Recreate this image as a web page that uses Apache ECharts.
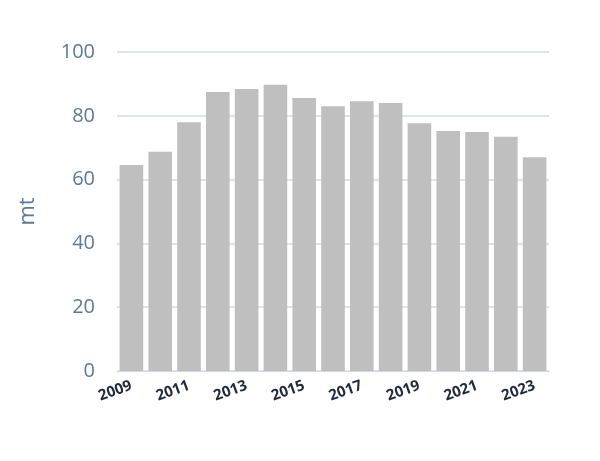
<!DOCTYPE html>
<html>
<head>
<meta charset="utf-8">
<script src="https://cdn.jsdelivr.net/npm/echarts@6/dist/echarts.min.js"></script>
<style>html,body{margin:0;padding:0;background:#fff}#c{width:600px;height:461px}</style>
</head>
<body>
<div id="c"></div>
<script>
var years = ['2009','2010','2011','2012','2013','2014','2015','2016','2017','2018','2019','2020','2021','2022','2023'];
var values = [64.6, 68.7, 78, 87.5, 88.4, 89.7, 85.6, 83, 84.6, 84, 77.7, 75.2, 74.9, 73.4, 67];

var chart = echarts.init(document.getElementById('c'));
chart.setOption({
    animation: false,
    grid: { left: 117, right: 51, top: 52, bottom: 90 },
    xAxis: {
        type: 'category',
        data: years,
        axisLine: { show: true, lineStyle: { color: '#d0d8e0' } },
        axisTick: { show: false },
        axisLabel: {
            interval: 1,
            rotate: 20,
            margin: 14,
            color: '#1f2a3a',
            fontSize: 15,
            fontWeight: 'bold',
            fontFamily: 'Open Sans'
        }
    },
    yAxis: {
        type: 'value',
        min: 0,
        max: 100,
        interval: 20,
        name: 'mt',
        nameLocation: 'middle',
        nameGap: 78,
        nameTextStyle: { color: '#5b7a99', fontSize: 22, fontFamily: 'Open Sans' },
        axisLabel: { color: '#5b7a99', fontSize: 20, margin: 22, fontFamily: 'Open Sans' },
        splitLine: { lineStyle: { color: '#d0dde8', width: 1.5 } },
        axisLine: { show: false },
        axisTick: { show: false }
    },
    series: [{
        type: 'bar',
        data: values,
        barCategoryGap: '18%',
        itemStyle: { color: '#bfbfbf' }
    }]
});
</script>
</body>
</html>
